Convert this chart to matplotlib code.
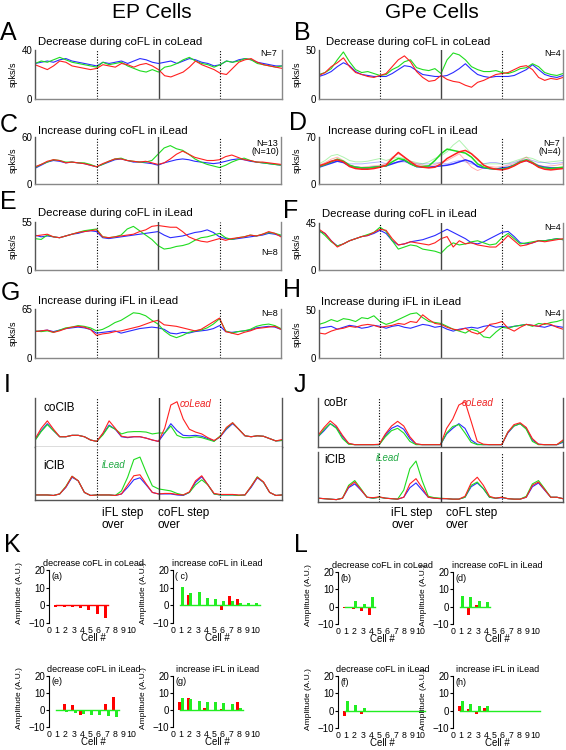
import numpy as np
import matplotlib
matplotlib.use("Agg")
import matplotlib.pyplot as plt

plt.rcParams['font.family'] = ['Liberation Sans', 'DejaVu Sans']

W, H = 566, 750
BLUE, GREEN, RED = '#2b2bff', '#1fdc1f', '#ff2020'
BAR_RED, BAR_GREEN = '#ff0000', '#22ee22'

# time axis of the averaged traces: 4 phases, 0.1 step
t = np.arange(41) / 10.0

# ---- firing-rate traces (spks/s) ----
A_blue = [29,30,31,30,32,33,31,30,29,28,27, 30,29,30,31,29,31,33,32,30,29, 30,31,29,31,33,32,30,29,27,28, 31,30,32,33,32,30,29,28,27,27]
A_green = [29,31,30,32,34,32,30,29,28,27,26, 30,28,29,30,27,25,23,22,24,22, 26,27,29,32,34,31,29,28,26,28, 31,30,31,33,32,29,28,27,26,27]
A_red = [28,26,24,27,31,30,27,26,25,24,25, 28,27,26,29,28,26,28,29,27,24, 19,18,20,22,26,31,28,26,24,21, 20,25,30,32,33,30,28,27,26,25]

B_blue = [23,25,28,33,37,34,28,25,24,23,23, 23,26,30,34,33,29,25,24,23,23, 24,27,31,36,30,25,23,22,23,23, 23,24,27,30,35,30,25,23,22,24]
B_green = [25,27,31,40,48,38,30,27,28,26,24, 25,30,33,38,40,32,30,29,31,26, 40,47,45,40,33,30,28,28,29,27, 26,28,31,32,36,33,27,25,24,26]
B_red = [24,27,33,37,42,33,27,25,23,22,24, 26,33,40,44,38,28,22,18,19,24, 20,18,17,14,12,17,19,22,25,26, 27,30,33,34,30,22,19,21,20,22]

C_blue = [20,24,28,30,29,27,28,27,26,24,22, 25,28,31,32,30,28,28,27,26,24, 27,29,31,32,31,29,28,27,26,27, 29,31,32,31,29,28,27,26,25,24]
C_green = [21,25,28,31,30,28,28,27,27,25,22, 25,29,32,33,30,29,28,28,30,38, 46,49,45,43,38,32,28,25,23,21, 24,28,31,33,30,28,27,26,25,24]
C_red = [22,25,29,31,30,27,28,27,26,24,22, 26,29,32,32,30,29,28,29,27,25, 27,32,38,42,38,34,32,30,30,31, 35,37,34,31,30,28,28,27,26,25]

D_blue = [25,28,31,34,32,27,25,24,24,25,26, 27,30,33,35,30,26,25,25,26,27, 28,30,33,36,33,26,24,23,22,24, 25,28,33,35,31,27,25,24,24,24]
D_green = [26,29,33,37,34,28,25,24,24,25,26, 27,33,38,36,30,26,26,27,35,45, 52,50,48,46,40,30,25,23,22,22, 24,28,33,36,32,26,24,23,24,25]
D_red = [27,30,34,36,33,26,23,22,22,23,25, 28,38,47,40,33,27,25,24,25,30, 38,43,48,50,45,37,28,24,22,21, 23,27,32,35,31,25,22,21,22,23]
# subset (N=4), drawn faint
D_green_sub = [30,35,42,44,40,35,33,33,34,36,38, 35,38,40,38,34,32,30,33,38,42, 48,58,65,55,45,35,30,30,30,30, 31,34,37,40,38,34,32,33,34,35]
D_blue_sub = [27,30,33,35,33,30,30,30,31,32,33, 30,31,33,33,31,30,30,30,31,32, 30,33,35,33,30,28,30,32,32,30, 30,32,35,37,35,32,32,30,31,32]
D_red_sub = [28,32,37,40,35,28,26,25,26,27,28, 30,40,45,40,34,30,28,27,29,32, 35,40,45,35,25,20,24,26,25,26, 28,30,35,40,33,28,26,27,28,30]

E_blue = [40,38,39,38,37,39,41,42,44,45,44, 37,36,37,38,39,40,41,42,43,44, 40,37,38,39,41,43,44,46,43,38, 36,35,36,37,38,39,40,42,41,39]
E_green = [36,35,40,38,37,39,41,43,45,46,47, 38,37,38,40,47,50,45,40,35,28, 24,25,27,28,30,34,37,38,40,42, 37,35,37,38,40,39,41,43,42,40]
E_red = [39,40,41,38,37,39,41,43,44,45,46, 38,37,38,39,40,41,44,46,50,51, 50,49,49,44,38,35,33,32,34,36, 34,36,37,38,40,39,41,44,42,38]

F_blue = [37,35,28,23,25,28,30,32,33,35,38, 35,28,24,25,27,28,29,31,33,36, 39,36,33,30,26,25,27,30,33,36, 37,32,26,25,26,28,28,29,30,29]
F_green = [38,33,27,23,25,28,30,32,34,36,41, 37,28,20,22,24,23,20,19,18,16, 22,26,24,25,27,28,26,24,25,31, 35,30,25,26,27,28,28,29,30,29]
F_red = [39,35,28,22,25,28,30,32,33,36,39, 38,30,24,25,27,26,25,24,26,30, 32,22,28,25,26,24,23,22,22,27, 33,28,23,24,26,28,27,28,29,30]

G_blue = [35,36,37,35,37,39,40,41,40,38,33, 34,35,36,33,35,37,39,40,41,40, 38,33,32,34,33,35,36,37,39,43, 35,34,35,36,37,40,41,42,41,38]
G_green = [36,35,36,34,37,40,41,43,42,40,36, 38,42,47,50,55,60,59,56,50,45, 36,30,27,30,34,36,37,40,45,52, 36,33,35,36,38,42,44,45,43,39]
G_red = [35,36,37,34,36,39,41,42,41,38,30, 32,33,35,36,38,40,42,45,48,50, 44,43,42,40,38,36,38,43,48,53, 35,33,31,34,36,39,40,41,42,38]

H_blue = [31,32,33,30,32,34,33,31,32,34,33, 31,33,34,32,31,33,35,34,32,33, 30,28,30,31,32,31,33,34,32,33, 32,33,34,35,34,33,32,34,33,32]
H_green = [35,37,40,38,41,40,38,42,41,44,38, 35,37,40,43,46,47,42,38,37,36, 33,30,28,26,30,28,22,21,27,32, 31,33,34,35,33,36,35,37,38,40]
H_red = [26,25,28,30,31,33,32,34,35,34,32, 33,34,36,35,38,37,45,40,36,35, 32,30,29,31,27,25,28,35,36,38, 31,28,32,35,34,33,36,35,32,30]

# ---- EMG envelopes (normalised) ----
I_top_blue = [.15,.35,.50,.35,.22,.22,.25,.25,.22,.15,.12, .28,.47,.38,.22,.20,.22,.22,.19,.15,.12, .30,.50,.35,.25,.24,.25,.23,.18,.13,.22, .38,.50,.38,.24,.22,.24,.23,.18,.13,.14]
I_top_green = [.14,.33,.48,.35,.22,.22,.25,.25,.22,.15,.12, .26,.45,.38,.28,.32,.33,.33,.32,.28,.30, .30,.45,.25,.20,.20,.22,.20,.16,.12,.24, .40,.52,.38,.24,.22,.24,.23,.18,.13,.14]
I_top_red = [.17,.40,.56,.38,.22,.22,.25,.25,.22,.15,.12, .30,.56,.40,.23,.21,.22,.22,.19,.15,.12, .40,.90,.97,.60,.38,.32,.28,.20,.14,.22, .42,.52,.38,.24,.22,.24,.23,.18,.13,.16]
I_bot_blue = [.10,.10,.10,.09,.12,.25,.45,.38,.15,.09,.10, .10,.10,.09,.12,.25,.40,.44,.30,.15,.12, .12,.12,.10,.09,.15,.35,.46,.30,.12,.10, .10,.10,.09,.10,.25,.44,.35,.15,.09,.10]
I_bot_green = [.10,.10,.10,.09,.12,.27,.47,.38,.15,.09,.10, .10,.10,.09,.18,.45,.80,.85,.55,.28,.22, .20,.18,.13,.10,.15,.30,.40,.30,.12,.10, .10,.10,.09,.10,.27,.46,.35,.15,.09,.10]
I_bot_red = [.10,.10,.10,.09,.12,.26,.47,.38,.15,.09,.10, .10,.10,.09,.12,.30,.48,.50,.32,.15,.12, .13,.13,.11,.10,.16,.38,.48,.30,.13,.11, .11,.11,.10,.10,.27,.45,.36,.15,.09,.10]

J_top_blue = [.22,.35,.50,.42,.22,.07,.05,.05,.05,.05,.05, .25,.40,.46,.38,.18,.06,.05,.05,.05,.05, .28,.40,.50,.40,.15,.06,.05,.05,.05,.05, .30,.45,.50,.40,.15,.06,.05,.05,.05,.10]
J_top_green = [.22,.38,.50,.40,.18,.06,.05,.05,.05,.05,.05, .22,.35,.40,.30,.12,.05,.05,.05,.05,.05, .30,.44,.48,.30,.10,.05,.05,.05,.05,.05, .32,.45,.50,.38,.12,.05,.05,.05,.05,.12]
J_top_red = [.25,.42,.56,.45,.25,.08,.05,.05,.05,.05,.06, .28,.45,.55,.45,.22,.07,.05,.05,.05,.05, .40,.60,.90,.97,.55,.12,.06,.05,.05,.05, .32,.48,.52,.42,.18,.06,.05,.05,.05,.15]
J_bot_blue = [.08,.07,.06,.05,.08,.30,.38,.25,.10,.08,.10, .08,.07,.06,.10,.30,.40,.25,.10,.08,.07, .07,.06,.06,.10,.32,.40,.28,.10,.08,.09, .07,.06,.06,.10,.32,.40,.25,.10,.10,.07]
J_bot_green = [.08,.07,.06,.05,.08,.35,.45,.28,.10,.08,.10, .08,.07,.06,.25,.70,.86,.45,.12,.09,.08, .07,.06,.06,.10,.35,.42,.28,.10,.08,.10, .07,.06,.06,.12,.38,.45,.28,.10,.10,.07]
J_bot_red = [.08,.07,.06,.05,.08,.32,.42,.26,.10,.09,.11, .08,.07,.06,.10,.38,.49,.30,.10,.08,.07, .07,.06,.06,.12,.40,.52,.35,.12,.08,.10, .07,.06,.06,.10,.35,.42,.26,.10,.10,.07]

# ---- per-cell amplitudes (A.U.) ----
Ka_red = [-0.7, -1.0, -1.0, -1.3, -2.7, -5.0, -7.2]
Ka_green = [0, 0, 0, 0, 0, 0, 0]
Kc_red = [0, 6.0, 0, 0, 0, -2.6, 5.1, 3.5, 0, 0]
Kc_green = [10.5, 7.2, 7.3, 4.0, 3.7, 2.7, 2.5, 1.5, 1.5, 1.5]
Ke_red = [0, 3.6, 2.7, -2.7, 0, 0, 3.6, 7.6]
Ke_green = [-0.7, -1.0, -2.0, -2.5, -3.0, -3.2, -3.5, -4.0]
Kg_red = [4.9, 6.8, 0, 1.0, 0, 0.3, 0, 4.8]
Kg_green = [7.0, 6.7, 5.3, 4.9, 4.7, 3.9, 3.5, 1.3]
Lb_red = [-1.0, -1.5, -2.5, -5.0]
Lb_green = [0, 3.0, 1.5, 5.7]
Ld_red = [0, -5.0, 0.7, 0]
Ld_green = [6.3, 5.5, 3.0, 2.5]
Lf_red = [-3.0, -1.0, -2.0, -0.5, 0, 0, 0, 0, 0, 0]
Lf_green = [5.7, 3.0, 1.5, 0, 0, 0, 0, 0, 0, 0]
Lh_red = [2.5, 1.0, -2.0, 1.3, 0, 0, 0, 0, 0, 0]
Lh_green = [5.5, 3.7, 2.7, 2.5, 0, 0, 0, 0, 0, 0]


fig = plt.figure(figsize=(W / 100, H / 100), dpi=100)


def px(l, t_, r, b):
    return [l / W, 1 - b / H, (r - l) / W, (b - t_) / H]


def ftext(x, y, s, **kw):
    kw.setdefault('va', 'center')
    fig.text(x / W, 1 - y / H, s, **kw)


def phase_lines(ax):
    ax.axvline(1, color='k', lw=0.8, ls=(0, (1, 1.5)))
    ax.axvline(3, color='k', lw=0.8, ls=(0, (1, 1.5)))
    ax.axvline(2, color='#444444', lw=1.0)


def trace_panel(rect, ymax, blue, green, red, faint=None):
    ax = fig.add_axes(px(*rect))
    if faint:
        for y, c in zip(faint, [BLUE, GREEN, RED]):
            ax.plot(t, y, color=c, lw=0.7, alpha=0.35)
    lw = 1.1 if faint else 0.8
    ax.plot(t, blue, color=BLUE, lw=lw)
    ax.plot(t, green, color=GREEN, lw=lw)
    ax.plot(t, red, color=RED, lw=lw)
    phase_lines(ax)
    ax.set_xlim(0, 4)
    ax.set_ylim(0, ymax)
    ax.set_yticks([0, ymax])
    ax.set_xticks([])
    ax.tick_params(axis='y', length=0, labelsize=7, pad=2)
    ax.spines['top'].set_visible(False)
    ax.spines['left'].set_color('#555555')
    ax.spines['right'].set_color('#888888')
    ax.spines['bottom'].set_color('#888888')
    for s in ax.spines.values():
        s.set_linewidth(1.0)
    ftext(rect[0] - 22, (rect[1] + rect[3]) / 2, 'spks/s', rotation=90,
          ha='center', fontsize=6.5)
    return ax


def emg_panel(rect, curves):
    ax = fig.add_axes(px(*rect))
    for y, c in zip(curves, [BLUE, GREEN, RED]):
        ax.plot(t, y, color=c, lw=0.8)
    ax.axvline(1, color='k', lw=0.8, ls=(0, (1, 1.5)))
    ax.axvline(3, color='k', lw=0.8, ls=(0, (1, 1.5)))
    ax.axvline(2, color='#333333', lw=1.0)
    ax.set_xlim(0, 4)
    ax.set_ylim(0, 1.05)
    ax.set_xticks([])
    ax.set_yticks([])
    ax.spines['top'].set_visible(False)
    for s in ax.spines.values():
        s.set_color('#555555')
        s.set_linewidth(1.0)
    return ax


def bar_panel(rect, red, green, title, tag, base_end, base_col):
    ax = fig.add_axes(px(*rect))
    xr = np.arange(1, len(red) + 1)
    xg = np.arange(1, len(green) + 1)
    ax.bar(xr - 0.17, red, width=0.36, color=BAR_RED, lw=0)
    ax.bar(xg + 0.17, green, width=0.36, color=BAR_GREEN, lw=0)
    ax.plot([0.8, base_end], [0, 0], color=base_col, lw=1.0)
    ax.set_xlim(0, 10.8)
    ax.set_ylim(-10, 20)
    ax.set_yticks([-10, 0, 10, 20])
    ax.set_xticks(range(11))
    ax.tick_params(axis='y', length=2, width=0.8, labelsize=7, pad=1)
    ax.tick_params(axis='x', length=0, labelsize=6.3, pad=2)
    for k in ['top', 'right', 'bottom']:
        ax.spines[k].set_visible(False)
    ax.spines['left'].set_linewidth(0.8)
    ax.set_title(title, fontsize=6.5, pad=3)
    ax.text(0.25, 16.5, tag, fontsize=6.5, va='center')
    ax.set_xlabel('Cell #', fontsize=7, labelpad=-1)
    ax.set_ylabel('Amplitude (A.U.)', fontsize=6)
    ax.yaxis.set_label_coords(-0.29, 0.56)
    return ax


# column headers and panel letters
ftext(152, 12, 'EP Cells', ha='center', fontsize=15)
ftext(432, 12, 'GPe Cells', ha='center', fontsize=15)
for s, x, y in [('A', 0, 33), ('B', 294, 33), ('C', 0, 125), ('D', 289, 123),
                ('E', 0, 202), ('F', 283, 211), ('G', 1, 293), ('H', 283, 290),
                ('I', 4, 385), ('J', 294, 385), ('K', 4, 545), ('L', 294, 545)]:
    ftext(x, y, s, ha='left', fontsize=18)

# firing-rate panels
trace_panel((35, 50, 282, 99), 40, A_blue, A_green, A_red)
trace_panel((319, 50, 563, 99), 50, B_blue, B_green, B_red)
trace_panel((35, 137, 281, 184), 60, C_blue, C_green, C_red)
trace_panel((319, 137, 563, 184), 70, D_blue, D_green, D_red,
            faint=[D_blue_sub, D_green_sub, D_red_sub])
trace_panel((35, 222, 281, 270), 55, E_blue, E_green, E_red)
trace_panel((319, 223, 563, 270), 45, F_blue, F_green, F_red)
trace_panel((35, 309, 281, 358), 65, G_blue, G_green, G_red)
trace_panel((319, 310, 563, 358), 50, H_blue, H_green, H_red)

for x, y, s in [(38, 42, 'Decrease during coFL in coLead'), (326, 42, 'Decrease during coFL in coLead'),
                (38, 131, 'Increase during coFL in iLead'), (328, 131, 'Increase during coFL in iLead'),
                (38, 213, 'Decrease during coFL in iLead'), (322, 214, 'Decrease during coFL in iLead'),
                (38, 301, 'Increase during iFL in iLead'), (321, 302, 'Increase during iFL in iLead')]:
    ftext(x, y, s, ha='left', fontsize=8.2)

for x, y, s in [(277, 54, 'N=7'), (561, 54, 'N=4'), (278, 143, 'N=13'), (279, 152, '(N=10)'),
                (560, 143, 'N=7'), (561, 152, '(N=4)'), (278, 252, 'N=8'), (561, 227, 'N=4'),
                (278, 313, 'N=8'), (561, 313, 'N=4')]:
    ftext(x, y, s, ha='right', fontsize=6.5)

# EMG panels
emg_panel((35, 398, 282, 447), [I_top_blue, I_top_green, I_top_red])
emg_panel((35, 447, 282, 500), [I_bot_blue, I_bot_green, I_bot_red])
emg_panel((318, 398, 563, 447), [J_top_blue, J_top_green, J_top_red])
emg_panel((318, 452, 563, 502), [J_bot_blue, J_bot_green, J_bot_red])

ftext(43, 408, 'coClB', ha='left', fontsize=8.5)
ftext(43, 466, 'iClB', ha='left', fontsize=8.5)
ftext(180, 404, 'coLead', ha='left', fontsize=7, style='italic', color='#ee2222')
ftext(102, 465, 'iLead', ha='left', fontsize=7, style='italic', color='#22aa44')
ftext(324, 403, 'coBr', ha='left', fontsize=8.5)
ftext(324, 460, 'iClB', ha='left', fontsize=8.5)
ftext(462, 403, 'coLead', ha='left', fontsize=7, style='italic', color='#ee2222')
ftext(376, 458, 'iLead', ha='left', fontsize=7, style='italic', color='#22aa44')
for x in [102, 391]:
    ftext(x, 519, 'iFL step\nover', ha='left', fontsize=8.5, linespacing=1.0)
for x in [158, 446]:
    ftext(x, 519, 'coFL step\nover', ha='left', fontsize=8.5, linespacing=1.0)

# per-cell amplitude bars
bar_panel((49, 570, 138, 623), Ka_red, Ka_green, 'decrease coFL in coLead', '(a)', 7.2, BAR_RED)
bar_panel((173, 570, 262, 623), Kc_red, Kc_green, 'increase coFL in iLead', '( c)', 10.5, BAR_GREEN)
bar_panel((49, 676, 138, 727), Ke_red, Ke_green, 'decrease coFL in iLead', '(e)', 8.5, BAR_GREEN)
bar_panel((173, 676, 262, 727), Kg_red, Kg_green, 'increase iFL in iLead', '(g)', 8.5, BAR_GREEN)
bar_panel((338, 572, 427, 624), Lb_red, Lb_green, 'decrease coFL in coLead', '(b)', 4.5, BAR_GREEN)
bar_panel((453, 572, 542, 624), Ld_red, Ld_green, 'increase coFL in iLead', '(d)', 4.5, BAR_GREEN)
bar_panel((338, 676, 427, 728), Lf_red, Lf_green, 'decrease coFL in iLead', '(f)', 10.5, BAR_GREEN)
bar_panel((453, 676, 542, 728), Lh_red, Lh_green, 'increase iFL in iLead', '(h)', 10.5, BAR_GREEN)

fig.savefig('out.png', dpi=100)
